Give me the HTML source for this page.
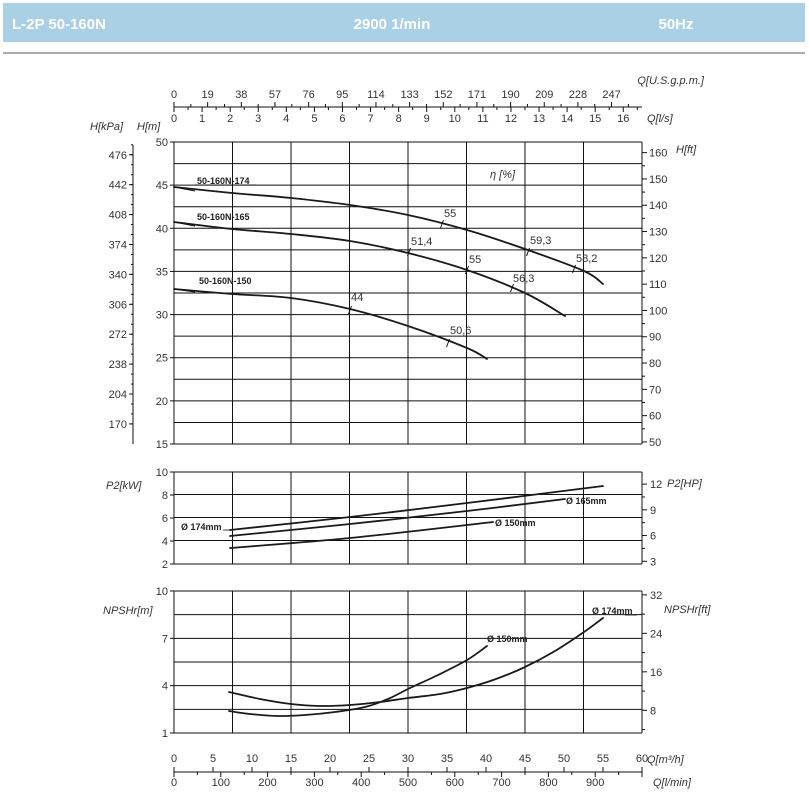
<!DOCTYPE html>
<html><head><meta charset="utf-8"><style>
html,body{margin:0;padding:0;background:#fff;}
svg{display:block;font-family:"Liberation Sans",sans-serif;}
.t{font-size:11px;fill:#333;}
.i{font-size:11px;fill:#333;font-style:italic;}
.b{font-size:9px;fill:#222;font-weight:bold;}
.g{stroke:#111;stroke-width:1;fill:none;}
.c{stroke:#1a1a1a;stroke-width:2;fill:none;stroke-linecap:round;}
</style></head><body>
<svg width="809" height="810" viewBox="0 0 809 810" xmlns="http://www.w3.org/2000/svg">
<rect x="3" y="3" width="802" height="39" fill="#a9d0e5"/>
<text x="12" y="29" font-size="15" font-weight="bold" fill="#fff" font-family="Liberation Sans Narrow, Liberation Sans, sans-serif">L-2P 50-160N</text>
<text x="392" y="29" font-size="15" font-weight="bold" fill="#fff" text-anchor="middle">2900 1/min</text>
<text x="676" y="29" font-size="15" font-weight="bold" fill="#fff" text-anchor="middle">50Hz</text>
<line x1="3" y1="53" x2="805" y2="53" stroke="#555" stroke-width="1"/>
<g id="content"></g>
</svg>
<script>
const s=document.querySelector('#content');const NS="http://www.w3.org/2000/svg";
function el(t,a,txt){const e=document.createElementNS(NS,t);for(const k in a)e.setAttribute(k,a[k]);if(txt!==undefined)e.textContent=txt;s.appendChild(e);return e;}
function L(x1,y1,x2,y2,w){el('line',{x1,y1,x2,y2,stroke:'#111','stroke-width':w||1});}
function T(x,y,t,cls,anc){el('text',{x,y,class:cls||'t','text-anchor':anc||'start'},t);}
const X=q=>174+q*7.8;
const VX=[174,232.5,291,349.5,408,466.5,525,583.5,642];
function panel(top,bot,hlines){
  VX.forEach(x=>L(x,top,x,bot));
  hlines.forEach(y=>L(174,y,642,y));
}
// main panel
const Hm=h=>142+(50-h)*8.629;
let hl=[];for(let h=15;h<=50;h+=2.5)hl.push(Hm(h));
panel(142,444,hl);
for(let h=15;h<=50;h+=5){T(168,Hm(h)+4,String(h),'t','end');L(170,Hm(h),174,Hm(h));}
// kPa axis
L(133,145,133,444);
[476,442,408,374,340,306,272,238,204,170].forEach(k=>{const y=Hm(k/9.81);L(129,y,133,y);T(127,y+4,String(k),'t','end');});
for(let k=170;k<=490;k+=34/3){const y=Hm(k/9.81);if(y>144&&y<444)L(131,y,133,y);}
// ft axis
for(let f=50;f<=164;f+=5){const y=Hm(f*0.3048);L(642,y,f%10==0?647:645,y);if(f%10==0)T(649,y+4,String(f));}
T(90,130,'H[kPa]','i');T(137,130,'H[m]','i');T(676,153,'H[ft]','i');
// top axis
L(174,107,642,107);
for(let g=0;g<=264;g+=9.5){const x=X(g/4.4029);if(x<=642.5)L(x,107,x,Math.round(g/9.5)%2==0?102:104);}
for(let g=0;g<=247;g+=19)T(X(g/4.4029),98,String(g),'t','middle');
for(let l=0;l<=16.67;l+=0.5){const x=X(l*3.6);L(x,107,x,l%1==0?112:110);}
for(let l=0;l<=16;l++)T(X(l*3.6),122,String(l),'t','middle');
T(704,84,'Q[U.S.g.p.m.]','i','end');T(647,122,'Q[l/s]','i');
T(490,178,'η [%]','i');
// H curves
function P(pts,cls){el('path',{d:'M'+pts.map(p=>p.join(',')).join(' L'),class:cls||'c'});}
function smooth(pts){let d='M'+pts[0];for(let i=1;i<pts.length;i++){const p0=pts[i-2]||pts[i-1],p1=pts[i-1],p2=pts[i],p3=pts[i+1]||p2;const c1=[p1[0]+(p2[0]-p0[0])/6,p1[1]+(p2[1]-p0[1])/6],c2=[p2[0]-(p3[0]-p1[0])/6,p2[1]-(p3[1]-p1[1])/6];d+=' C'+c1+' '+c2+' '+p2;}return d;}
function C(pts,w){el('path',{d:smooth(pts),fill:'none',stroke:'#1a1a1a','stroke-width':w||2,'stroke-linecap':'round'});}
C([[174,187],[232,193],[291,198],[350,205],[408,215],[467,230],[525,249],[584,271],[603,284]],1.8);
C([[174,222],[232,229],[291,234],[350,241],[408,253],[467,270],[525,293],[565,316]],1.8);
C([[174,289],[232,294],[291,298],[350,309],[408,326],[467,348],[487,359]],1.8);
L(174,187,195,191,1);L(174,222,195,226,1);L(174,289,195,292,1);
T(197,184,'50-160N-174','b');L(195,185,256,185,0.8);
T(197,220,'50-160N-165','b');
T(199,284,'50-160N-150','b');
[[442,224,444,217,'55'],[409,252,411,245,'51,4'],[528,252,530,244,'59,3'],[467,270,469,263,'55'],[574,269,576,262,'58,2'],[512,288,513,282,'56,3'],[350,310,351,301,'44'],[448,343,450,334,'50,6']].forEach(a=>{L(a[0]-1.5,a[1]+4,a[0]+1.5,a[1]-4,1);T(a[2],a[3],a[4],'t');});
// P2 panel
const Pk=p=>564-(p-2)*11.5;
panel(472,564,[472,483.5,494.5,506,517.5,529,540.5,552,564].filter((y,i)=>i%2==0));
for(let p=2;p<=10;p+=2){T(168,Pk(p)+4,String(p),'t','end');L(170,Pk(p),174,Pk(p));}
for(let hp=3;hp<=13;hp+=1.5){const y=Pk(hp*0.7457);if(y>=472){L(642,y,hp%3==0?647:645,y);if(hp%3==0)T(650,y+4,String(hp));}}
T(106,489,'P2[kW]','i');T(667,487,'P2[HP]','i');
C([[230,530],[350,517],[467,503],[603,486]],1.8);
C([[230,536],[350,524],[467,511],[565,499]],1.8);
C([[230,548],[350,538],[493,522]],1.8);
T(181,530,'Ø 174mm','b');L(223,530,230,530,0.8);
T(566,504,'Ø 165mm','b');T(495,526,'Ø 150mm','b');
// NPSH panel
const Nm=n=>733-(n-1)*15.78;
let nl=[];for(let n=1;n<=10;n+=1.5)nl.push(Nm(n));
panel(591,733,nl);
[1,4,7,10].forEach(n=>{T(168,Nm(n)+4,String(n),'t','end');L(170,Nm(n),174,Nm(n));});
for(let f=4;f<=32;f+=4){const y=Nm(f*0.3048);if(y<=734){L(642,y,f%8==0?647:645,y);if(f%8==0)T(650,y+4,String(f));}}
T(103,614,'NPSHr[m]','i');T(664,613,'NPSHr[ft]','i');
C([[229,692],[260,699],[291,704],[320,706],[350,705],[380,702],[408,698],[440,694],[467,688],[496,679],[525,667],[555,651],[584,632],[603,618]],1.8);
C([[229,711],[250,714],[277,716],[305,715],[335,712],[365,707],[388,699],[408,689],[438,675],[467,660],[487,646]],1.8);
T(592,614,'Ø 174mm','b');L(625,615,637,615,0.8);
T(487,642,'Ø 150mm','b');
// bottom axis
L(174,772,642,772);
for(let q=0;q<=60;q+=5){const x=X(q);L(x,772,x,767);T(x,762,String(q),'t','middle');}
for(let m=0;m<=1000;m+=50){const x=X(m*0.06);L(x,772,x,m%100==0?777:775);if(m%100==0&&m<1000)T(x,786,String(m),'t','middle');}
T(647,763,'Q[m³/h]','i');T(653,786,'Q[l/min]','i');
</script>
</body></html>
